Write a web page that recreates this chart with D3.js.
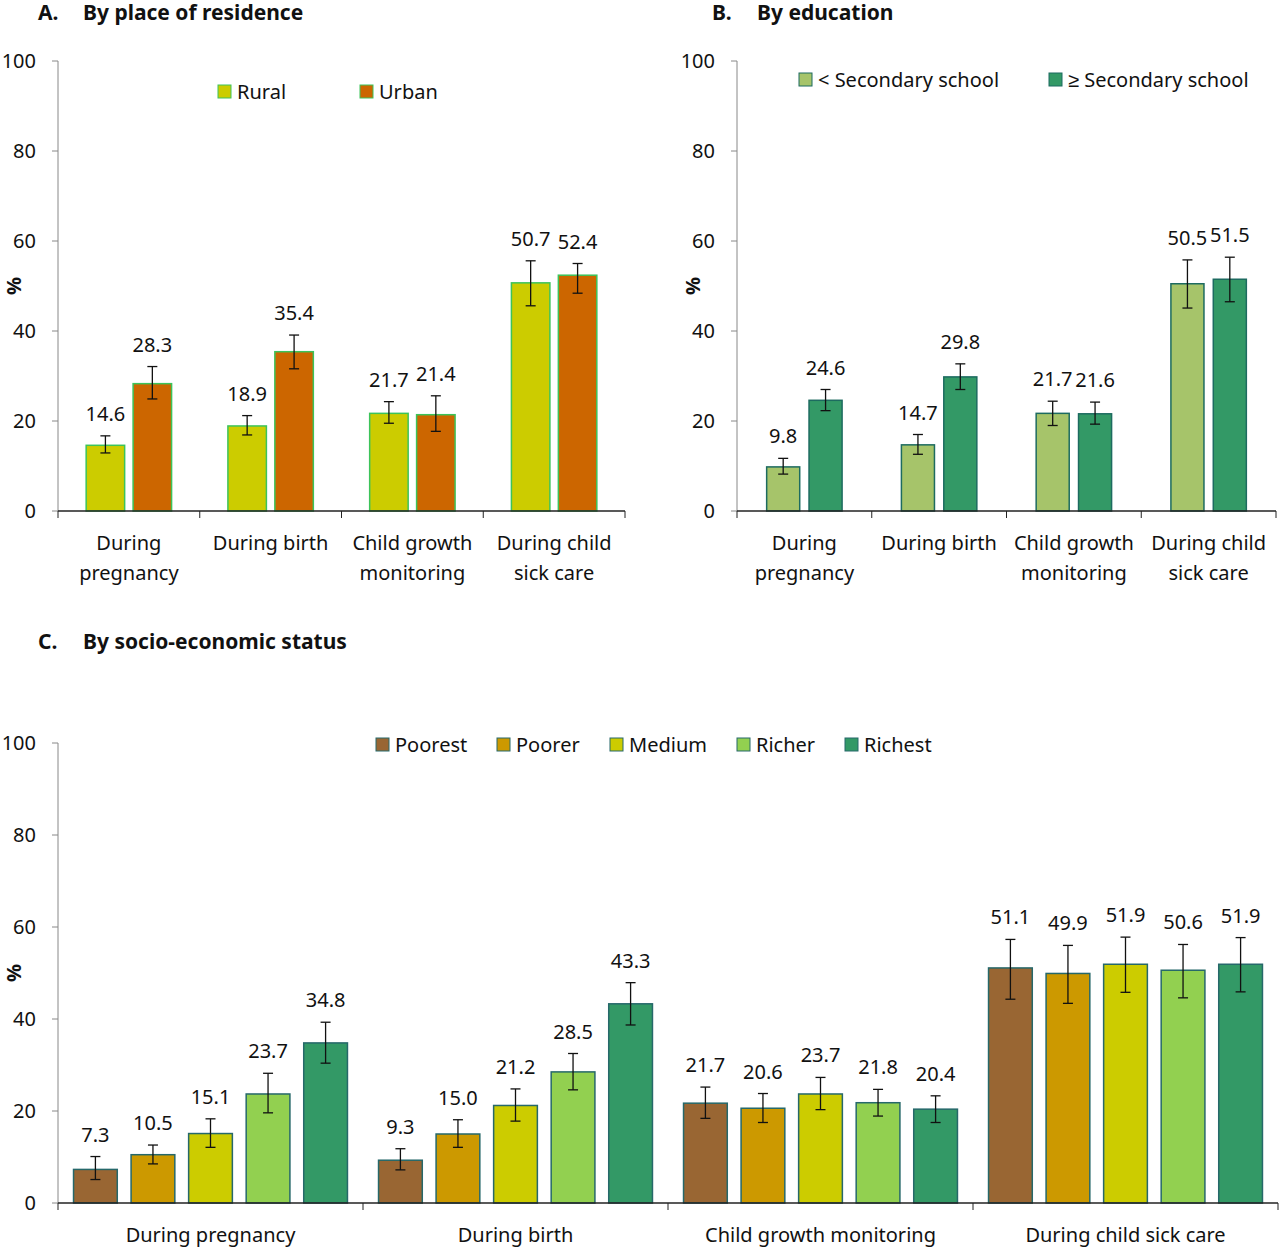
<!DOCTYPE html>
<html><head><meta charset="utf-8">
<script src="https://cdn.jsdelivr.net/npm/d3@7"></script>
<style>body{margin:0;background:#fff}text{font-family:"Noto Sans",sans-serif;fill:#111}</style>
</head><body><svg id="c" width="1280" height="1247"></svg>
<script>
// DATA ------------------------------
const categories = ['During pregnancy', 'During birth', 'Child growth monitoring', 'During child sick care'];
const catLinesAB = [['During', 'pregnancy'], ['During birth'], ['Child growth', 'monitoring'], ['During child', 'sick care']];
const yTicks = [0, 20, 40, 60, 80, 100];

const residenceSeries = ['Rural', 'Urban'];
const residenceValues = [[14.6, 18.9, 21.7, 50.7], [28.3, 35.4, 21.4, 52.4]];
const residenceLow = [[12.9, 16.9, 19.5, 45.6], [24.9, 31.6, 17.7, 48.4]];
const residenceHigh = [[16.7, 21.2, 24.3, 55.6], [32.1, 39.1, 25.6, 55.0]];

const eduSeries = ['< Secondary school', '\u2265 Secondary school'];
const eduValues = [[9.8, 14.7, 21.7, 50.5], [24.6, 29.8, 21.6, 51.5]];
const eduLow = [[8.2, 12.6, 19.0, 45.1], [22.3, 27.0, 19.3, 46.5]];
const eduHigh = [[11.7, 17.0, 24.4, 55.8], [27.0, 32.7, 24.2, 56.4]];

const sesSeries = ['Poorest', 'Poorer', 'Medium', 'Richer', 'Richest'];
const sesValues = [[7.3, 9.3, 21.7, 51.1], [10.5, 15.0, 20.6, 49.9], [15.1, 21.2, 23.7, 51.9], [23.7, 28.5, 21.8, 50.6], [34.8, 43.3, 20.4, 51.9]];
const sesLow = [[5.1, 7.2, 18.4, 44.3], [8.5, 12.1, 17.5, 43.4], [12.1, 17.8, 20.3, 45.8], [19.6, 24.6, 18.9, 44.6], [30.4, 38.7, 17.5, 45.9]];
const sesHigh = [[10.1, 11.8, 25.2, 57.3], [12.6, 18.1, 23.8, 56.0], [18.3, 24.8, 27.3, 57.8], [28.2, 32.5, 24.7, 56.2], [39.3, 47.9, 23.3, 57.7]];

const svg = d3.select('#c');

function panel(o) {
    const g = svg.append('g');
    const y = d3.scaleLinear().domain([0, 100]).range([o.y0, o.y1]);
    const x0 = d3.scaleBand().domain(categories).range([o.xa, o.xb]);
    const x1 = d3.scaleBand().domain(o.series).range([0, x0.bandwidth()])
        .paddingInner(o.pin).paddingOuter(o.pout);

    // y axis
    g.append('line').attr('x1', o.xa).attr('x2', o.xa).attr('y1', y(0)).attr('y2', y(100)).attr('stroke', '#888');
    yTicks.forEach(t => {
        g.append('line').attr('x1', o.xa - 6).attr('x2', o.xa).attr('y1', y(t)).attr('y2', y(t)).attr('stroke', '#888');
        g.append('text').attr('x', o.xa - 22).attr('y', y(t)).attr('dy', '0.35em')
            .attr('text-anchor', 'end').attr('font-size', 20).text(t);
    });
    g.append('text').attr('transform', `translate(${o.xa - 44},${y(50)}) rotate(-90)`)
        .attr('text-anchor', 'middle').attr('dy', '0.35em').attr('font-size', 20).attr('font-weight', 'bold').text('%');

    // bars
    o.series.forEach((s, i) => {
        categories.forEach((c, j) => {
            const bx = x0(c) + x1(s), bw = x1.bandwidth(), v = o.values[i][j];
            g.append('rect').attr('x', bx).attr('y', y(v)).attr('width', bw).attr('height', y(0) - y(v))
                .attr('fill', o.colors[i]).attr('stroke', o.stroke).attr('stroke-width', 1.5);
            const cx = bx + bw / 2, lo = y(o.low[i][j]), hi = y(o.high[i][j]);
            g.append('line').attr('x1', cx).attr('x2', cx).attr('y1', lo).attr('y2', hi).attr('stroke', '#111').attr('stroke-width', 1.3);
            [lo, hi].forEach(yy => g.append('line').attr('x1', cx - 5).attr('x2', cx + 5).attr('y1', yy).attr('y2', yy).attr('stroke', '#111').attr('stroke-width', 1.3));
            g.append('text').attr('x', cx).attr('y', hi - 15).attr('text-anchor', 'middle').attr('font-size', 20)
                .text(v.toFixed(1));
        });
    });

    // x axis
    g.append('line').attr('x1', o.xa).attr('x2', o.xb).attr('y1', y(0)).attr('y2', y(0)).attr('stroke', '#222').attr('stroke-width', 1.3);
    categories.forEach((c, j) => {
        g.append('line').attr('x1', x0(c)).attr('x2', x0(c)).attr('y1', y(0)).attr('y2', y(0) + 7).attr('stroke', '#222');
        o.catLines[j].forEach((l, k) => g.append('text').attr('x', x0(c) + x0.bandwidth() / 2)
            .attr('y', y(0) + 39 + k * 30).attr('text-anchor', 'middle').attr('font-size', 20).text(l));
    });
    g.append('line').attr('x1', o.xb).attr('x2', o.xb).attr('y1', y(0)).attr('y2', y(0) + 7).attr('stroke', '#222');

    // legend
    o.series.forEach((s, i) => {
        g.append('rect').attr('x', o.legX[i]).attr('y', o.legY - 7).attr('width', 13).attr('height', 13)
            .attr('fill', o.colors[i]).attr('stroke', o.stroke);
        g.append('text').attr('x', o.legX[i] + 19).attr('y', o.legY).attr('dy', '0.35em').attr('font-size', 20).text(s);
    });

    // title
    g.append('text').attr('x', o.tx).attr('y', o.ty).attr('font-size', 21).attr('font-weight', 'bold').text(o.title[0]);
    g.append('text').attr('x', o.tx + 45).attr('y', o.ty).attr('font-size', 21).attr('font-weight', 'bold').text(o.title[1]);
}

panel({ xa: 58, xb: 625, y0: 511, y1: 61, series: residenceSeries, values: residenceValues, low: residenceLow, high: residenceHigh,
    colors: ['#cccc00', '#cc6600'], stroke: '#3cc35a', pin: 0.18, pout: 0.6, catLines: catLinesAB,
    legX: [218, 360], legY: 92, tx: 38, ty: 20, title: ['A.', 'By place of residence'] });

panel({ xa: 737, xb: 1276, y0: 511, y1: 61, series: eduSeries, values: eduValues, low: eduLow, high: eduHigh,
    colors: ['#a6c46a', '#339966'], stroke: '#1d6b60', pin: 0.22, pout: 0.7, catLines: catLinesAB,
    legX: [799, 1049], legY: 80, tx: 712, ty: 20, title: ['B.', 'By education'] });

panel({ xa: 58, xb: 1278, y0: 1203, y1: 743, series: sesSeries, values: sesValues, low: sesLow, high: sesHigh,
    colors: ['#996633', '#cc9900', '#cccc00', '#92d050', '#339966'], stroke: '#26686a', pin: 0.24, pout: 0.27,
    catLines: categories.map(c => [c]),
    legX: [376, 497, 610, 737, 845], legY: 745, tx: 38, ty: 649, title: ['C.', 'By socio-economic status'] });
</script></body></html>
